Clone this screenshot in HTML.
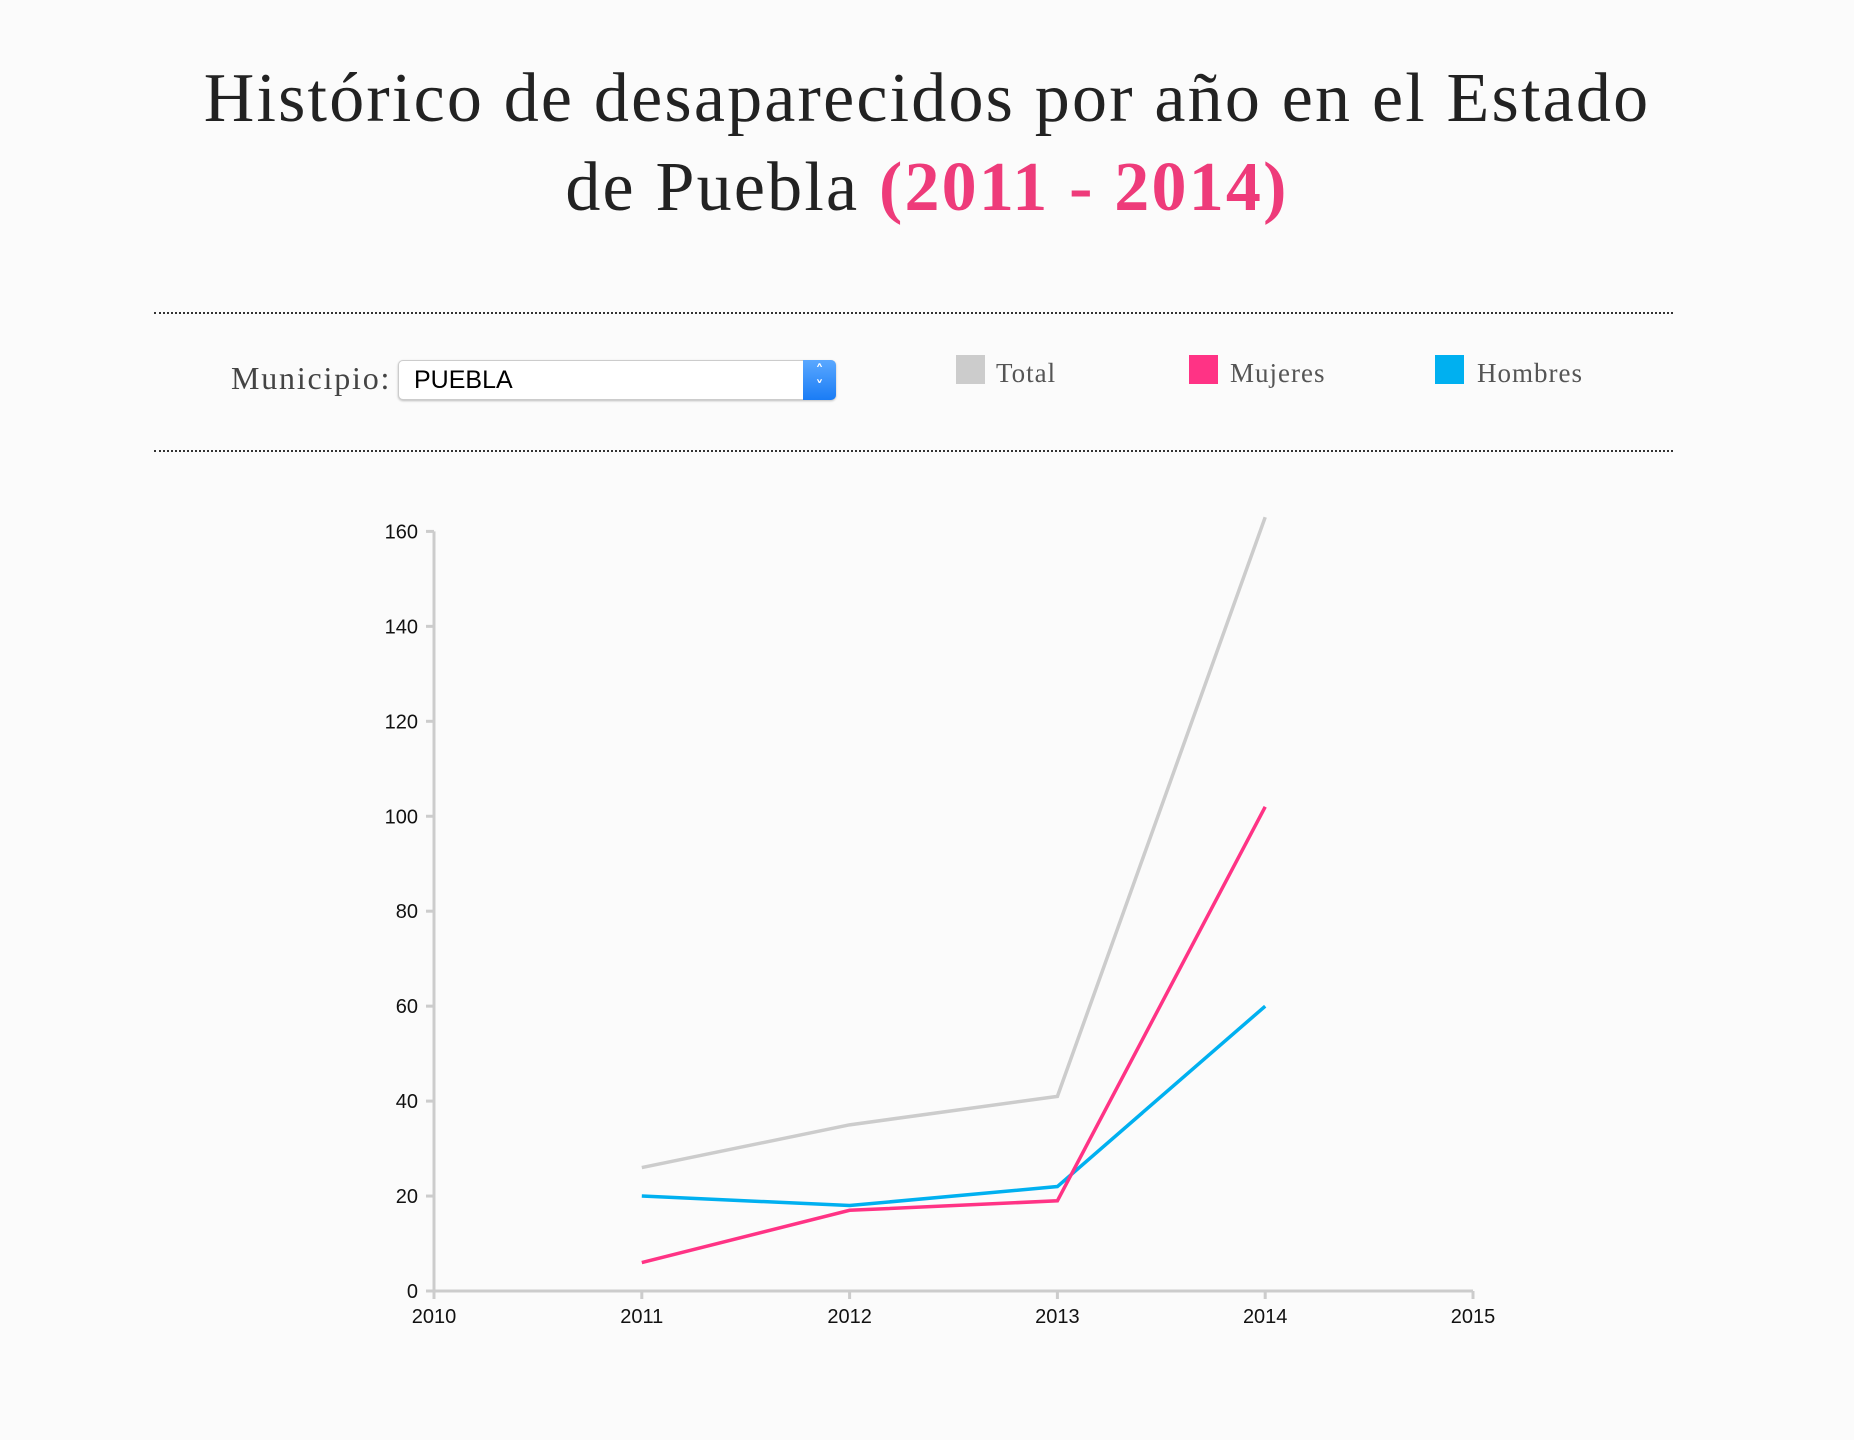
<!DOCTYPE html>
<html><head><meta charset="utf-8">
<style>
body{margin:0;width:1854px;height:1440px;background:#fbfbfb;position:relative;overflow:hidden;font-family:"Liberation Serif",serif;}
.t{position:absolute;left:0;width:1854px;text-align:center;font-size:70px;letter-spacing:2.2px;color:#222;line-height:89px;}
.hr{position:absolute;left:154px;width:1519px;border-top:2px dotted #333;height:0;}
.lg{position:absolute;font-size:27px;letter-spacing:1px;color:#555;}
.sq{position:absolute;width:29px;height:29px;}
</style></head><body>
<div class="t" style="top:54px">Histórico de desaparecidos por año en el Estado<br>de Puebla <b style="color:#ee3b7a">(2011 - 2014)</b></div>
<div class="hr" style="top:312px"></div>
<div class="hr" style="top:450px"></div>
<div class="lg" style="left:231px;top:360px;font-size:32px;letter-spacing:1.8px;color:#444">Municipio:</div>
<div style="position:absolute;left:398px;top:360px;width:438px;height:40px;background:#fff;border:1px solid #ccc;border-radius:5px;box-sizing:border-box;box-shadow:0 1px 2px #bbb;">
<span style="position:absolute;left:15px;top:5px;font:25px 'Liberation Sans',sans-serif;color:#000">PUEBLA</span>
<div style="position:absolute;right:-1px;top:-1px;width:33px;height:40px;background:linear-gradient(#5aa8ff,#1a7cf5);border-radius:0 5px 5px 0;color:#fff;font:bold 16px 'DejaVu Sans',sans-serif;text-align:center;line-height:16px;padding-top:3px;box-sizing:border-box">˄<br>˅</div>
</div>
<div class="sq" style="left:956px;top:355px;background:#ccc"></div>
<div class="lg" style="left:996px;top:358px">Total</div>
<div class="sq" style="left:1189px;top:355px;background:#ff3385"></div>
<div class="lg" style="left:1230px;top:358px">Mujeres</div>
<div class="sq" style="left:1435px;top:355px;background:#00b0f0"></div>
<div class="lg" style="left:1477px;top:358px">Hombres</div>
<svg id="c" width="1854" height="1440" style="position:absolute;left:0;top:0"></svg>
<script>
const years=[2011,2012,2013,2014];
const total=[26,35,41,163];
const mujeres=[6,17,19,102];
const hombres=[20,18,22,60];
const xTicks=[2010,2011,2012,2013,2014,2015];
const yTicks=[0,20,40,60,80,100,120,140,160];
const NS="http://www.w3.org/2000/svg";
const svg=document.getElementById('c');
const x=v=>434+(v-2010)*207.8;
const y=v=>1291-v*4.7475;
function mk(t,a){const e=document.createElementNS(NS,t);for(const k in a)e.setAttribute(k,a[k]);svg.appendChild(e);return e;}
let ax=mk('path',{d:`M${x(2010)},${y(160)}V${y(0)}H${x(2015)}`,stroke:'#ccc','stroke-width':3,fill:'none'});


yTicks.forEach(v=>{
 let l=mk('line',{x1:x(2010)-8,x2:x(2010),y1:y(v),y2:y(v),stroke:'#ccc','stroke-width':3});
 
 
 let t=mk('text',{x:x(2010)-16,y:y(v)+7,'text-anchor':'end','font-size':20,'font-family':'Liberation Sans,sans-serif',fill:'#111'});
 t.textContent=v;
 
 
});
xTicks.forEach(v=>{
 let l=mk('line',{x1:x(v),x2:x(v),y1:y(0),y2:y(0)+8,stroke:'#ccc','stroke-width':3});
 
 
 let t=mk('text',{x:x(v),y:y(0)+32,'text-anchor':'middle','font-size':20,'font-family':'Liberation Sans,sans-serif',fill:'#111'});
 t.textContent=v;
 
 
});
[[total,'#cccccc','line-total'],[hombres,'#00b0f0','line-hombres'],[mujeres,'#ff3385','line-mujeres']].forEach(([s,c,n])=>{
 let p=mk('path',{d:s.map((v,i)=>(i?'L':'M')+x(years[i])+','+y(v)).join(''),stroke:c,'stroke-width':3.5,fill:'none'});
 
 
});
</script>
</body></html>
